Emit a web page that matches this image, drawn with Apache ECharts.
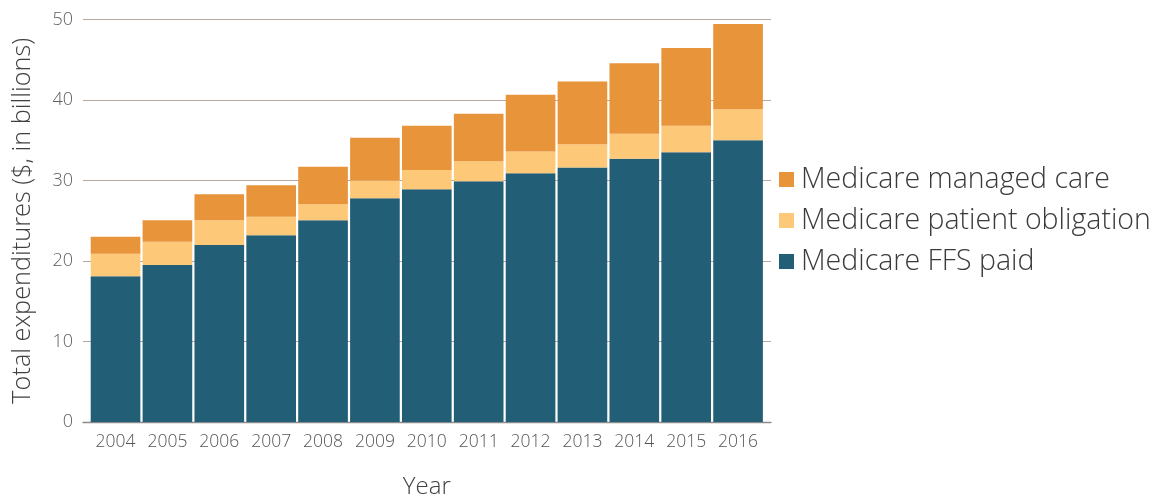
<!DOCTYPE html>
<html><head><meta charset="utf-8">
<script src="https://cdn.jsdelivr.net/npm/echarts@6/dist/echarts.min.js"></script>
<style>html,body{margin:0;padding:0;background:#fff}#c{width:1157px;height:498px}</style>
</head><body><div id="c"></div>
<script>
const years = ['2004','2005','2006','2007','2008','2009','2010','2011','2012','2013','2014','2015','2016'];
const ffsPaid = [18.1, 19.5, 22.0, 23.2, 25.05, 27.8, 28.9, 29.9, 30.9, 31.6, 32.7, 33.5, 35.0];
const patientObligation = [2.8, 2.9, 3.05, 2.3, 2.0, 2.2, 2.4, 2.5, 2.7, 2.9, 3.1, 3.3, 3.85];
const managedCare = [2.1, 2.65, 3.25, 3.9, 4.65, 5.3, 5.5, 5.9, 7.05, 7.8, 8.75, 9.65, 10.6];
const yTicks = [0, 10, 20, 30, 40, 50];

const FONT = '"Open Sans", sans-serif';
const chart = echarts.init(document.getElementById('c'), null, {renderer: 'canvas'});
const yMin = yTicks[0], yMax = yTicks[yTicks.length - 1], yInt = yTicks[1] - yTicks[0];
chart.setOption({
  animation: false,
  grid: [
    {left: 83, right: 386, top: 19.5, bottom: 76, containLabel: false, outerBoundsMode: 'none'},
    {left: 89.6, right: 393, top: 19.5, bottom: 76, containLabel: false, outerBoundsMode: 'none'}
  ],
  legend: {
    orient: 'vertical', left: 774, top: 160, itemGap: 12,
    itemWidth: 15, itemHeight: 15, icon: 'rect',
    textStyle: {fontFamily: FONT, fontWeight: 300, fontSize: 28.5, lineHeight: 28, color: '#3a3a3a', padding: [0,0,0,2]},
    data: ['Medicare managed care', 'Medicare patient obligation', 'Medicare FFS paid']
  },
  xAxis: [
    {type: 'category', gridIndex: 0, data: years, axisLabel: {show: false}, axisTick: {show: false},
     axisLine: {show: true, lineStyle: {color: '#8a8a8a', width: 1.3}}},
    {type: 'category', gridIndex: 1, data: years,
     axisLine: {show: false}, axisTick: {show: false},
     axisLabel: {interval: 0, hideOverlap: false, fontFamily: FONT, fontWeight: 300, fontSize: 17.5, color: '#555', margin: 11},
     name: 'Year', nameLocation: 'middle', nameGap: 53,
     nameTextStyle: {fontFamily: FONT, fontWeight: 300, fontSize: 24, color: '#404040'}}
  ],
  yAxis: [
    {type: 'value', gridIndex: 0, min: yMin, max: yMax, interval: yInt,
     axisLine: {show: false}, axisTick: {show: false},
     splitLine: {lineStyle: {color: '#b9a8a0', width: 1}},
     axisLabel: {fontFamily: FONT, fontWeight: 300, fontSize: 18, color: '#606060', margin: 10},
     name: 'Total expenditures ($, in billions)', nameLocation: 'middle', nameGap: 48,
     nameTextStyle: {fontFamily: FONT, fontWeight: 300, fontSize: 25.3, color: '#404040'}},
    {type: 'value', gridIndex: 1, min: yMin, max: yMax, interval: yInt, show: false}
  ],
  series: [
    {name: 'Medicare FFS paid', type: 'bar', stack: 't', xAxisIndex: 1, yAxisIndex: 1,
     barCategoryGap: '4.3%', data: ffsPaid, itemStyle: {color: '#225e75'}},
    {name: 'Medicare patient obligation', type: 'bar', stack: 't', xAxisIndex: 1, yAxisIndex: 1,
     data: patientObligation, itemStyle: {color: '#fdc877'}},
    {name: 'Medicare managed care', type: 'bar', stack: 't', xAxisIndex: 1, yAxisIndex: 1,
     data: managedCare, itemStyle: {color: '#e8943b'}}
  ]
});
</script></body></html>
